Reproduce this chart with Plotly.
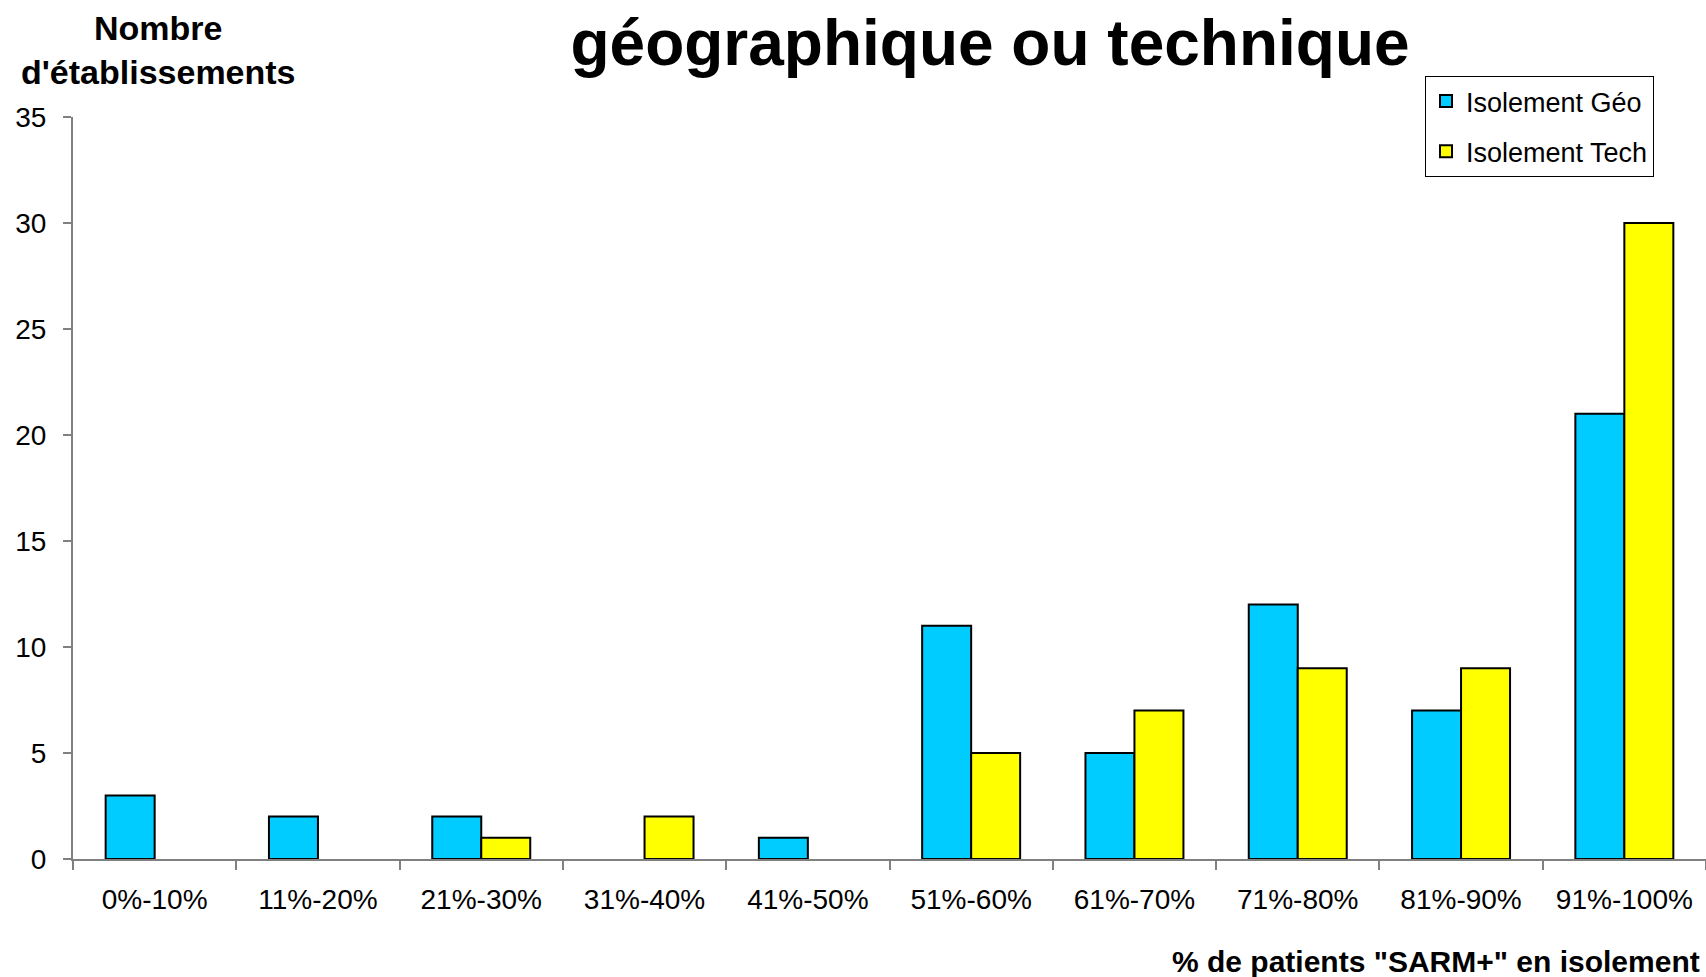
import plotly.graph_objects as go

categories = ["0%-10%", "11%-20%", "21%-30%", "31%-40%", "41%-50%",
              "51%-60%", "61%-70%", "71%-80%", "81%-90%", "91%-100%"]
geo_values = [3, 2, 2, 0, 1, 11, 5, 12, 7, 21]
tech_values = [0, 0, 1, 2, 0, 5, 7, 9, 9, 30]
y_ticks = [0, 5, 10, 15, 20, 25, 30, 35]
grid_ticks = [5, 10, 15, 20, 25, 30]

FONT = "Liberation Sans, Arial, sans-serif"
W, H = 1706, 977
ML, MR, MT, MB = 73, 0, 117, 118


def hide_zero(vals):
    # zero-height bars are not drawn in the reference (no outline at 0)
    return [v if v != 0 else None for v in vals]


fig = go.Figure()
fig.add_trace(go.Bar(name="Isolement Géo", x=categories, y=hide_zero(geo_values),
                     marker=dict(color="#00CCFF", line=dict(color="#000000", width=2)),
                     xaxis="x", yaxis="y2", legendgroup="a"))
fig.add_trace(go.Bar(name="Isolement Tech", x=categories, y=hide_zero(tech_values),
                     marker=dict(color="#FFFF00", line=dict(color="#000000", width=2)),
                     xaxis="x", yaxis="y2", legendgroup="b"))

fig.update_layout(
    width=W, height=H,
    margin=dict(l=ML, r=MR, t=MT, b=MB, pad=0),
    paper_bgcolor="white", plot_bgcolor="white",
    font=dict(family=FONT, color="#000000", size=28),
    barmode="group", bargap=0.4, bargroupgap=0,
    title=dict(text="<b>géographique ou technique</b>",
               font=dict(family=FONT, size=64, color="#000000"),
               x=990 / W, xanchor="center", xref="container",
               y=1 - 43 / H, yanchor="middle"),
    xaxis=dict(showline=True, linecolor="#808080", linewidth=2,
               ticks="outside", ticklen=9, tickcolor="#808080", tickwidth=1.5,
               tickson="boundaries", showgrid=False, zeroline=False,
               tickfont=dict(size=28, family=FONT), ticklabelstandoff=14,
               range=[-0.5, 9.5]),
    yaxis=dict(range=[0, 35], tickvals=grid_ticks, showgrid=True,
               gridcolor="#1a1a1a", gridwidth=1, showticklabels=False,
               ticks="", showline=False, zeroline=False),
    yaxis2=dict(range=[0, 35], tickvals=y_ticks, overlaying="y", side="left",
                showgrid=False, zeroline=False, showline=True,
                linecolor="#808080", linewidth=2,
                ticks="outside", ticklen=8, tickcolor="#808080", tickwidth=1.5,
                tickfont=dict(size=28, family=FONT), ticklabelstandoff=11),
    legend=dict(x=(1425 - ML) / (W - ML - MR), y=(H - MB - 76) / (H - MT - MB),
                xanchor="left", yanchor="top",
                bordercolor="#000000", borderwidth=1, bgcolor="white",
                font=dict(size=27, family=FONT), traceorder="grouped",
                tracegroupgap=12),
    showlegend=True,
)

fig.add_annotation(text="<b>Nombre<br>d'établissements</b>",
                   xref="paper", yref="paper",
                   x=(158 - ML) / (W - ML - MR), y=(H - MB - 50) / (H - MT - MB),
                   xanchor="center", yanchor="middle", showarrow=False,
                   font=dict(size=34, family=FONT, color="#000000"))
fig.add_annotation(text="<b>% de patients \"SARM+\" en isolement</b>",
                   xref="paper", yref="paper",
                   x=(1702 - ML) / (W - ML - MR), y=(H - MB - 961) / (H - MT - MB),
                   xanchor="right", yanchor="middle", showarrow=False,
                   font=dict(size=30, family=FONT, color="#000000"))

fig.write_html("out.html", config={"displayModeBar": False},
               post_script="document.body.style.margin='0';document.body.style.overflow='hidden';")
